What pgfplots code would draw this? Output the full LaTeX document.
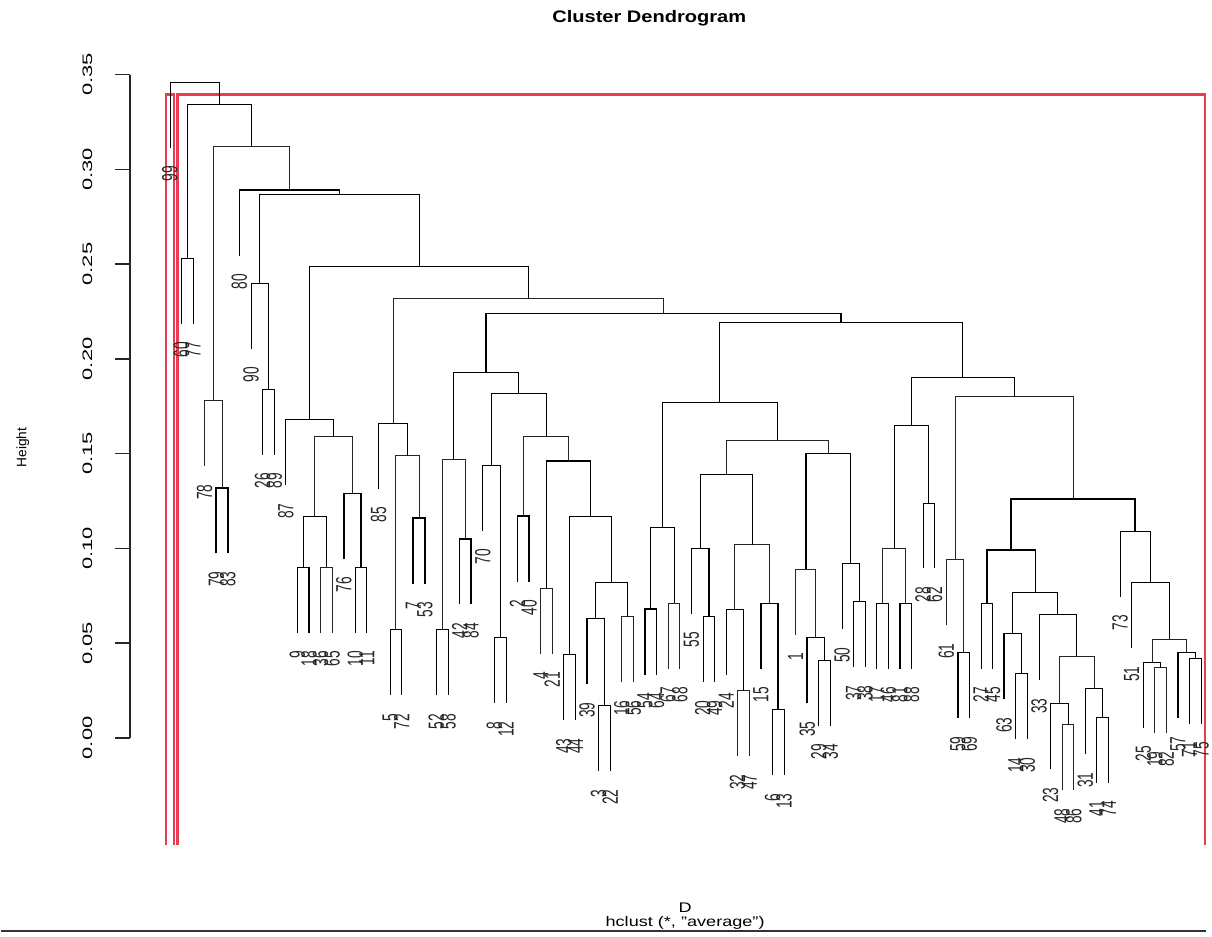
\documentclass[border=0pt]{standalone}
\usepackage{fontspec}
\setmainfont{Liberation Sans}
\usepackage{pgfplots}
\pgfplotsset{compat=1.18}
\usepackage{pgfplotstable}

\pgfplotstableread{
x y lab
1 0.3054 99
2 0.2124 60
3 0.2124 77
4 0.1374 78
5 0.0914 79
6 0.0914 83
7 0.2484 80
8 0.1994 90
9 0.1434 26
10 0.1434 89
11 0.1274 87
12 0.0494 9
13 0.0494 18
14 0.0494 36
15 0.0494 65
16 0.0884 76
17 0.0494 10
18 0.0494 11
19 0.1254 85
20 0.0164 5
21 0.0164 72
22 0.0754 7
23 0.0754 53
24 0.0164 52
25 0.0164 58
26 0.0644 42
27 0.0644 84
28 0.1034 70
29 0.0124 8
30 0.0124 12
31 0.0764 2
32 0.0764 40
33 0.0384 4
34 0.0384 21
35 0.0034 43
36 0.0034 44
37 0.0224 39
38 -0.0236 3
39 -0.0236 22
40 0.0234 16
41 0.0234 56
42 0.0274 54
43 0.0274 64
44 0.0304 67
45 0.0304 68
46 0.0594 55
47 0.0234 20
48 0.0234 49
49 0.0274 24
50 -0.0156 32
51 -0.0156 47
52 0.0304 15
53 -0.0256 6
54 -0.0256 13
55 0.0484 1
56 0.0124 35
57 0.0004 29
58 0.0004 34
59 0.0514 50
60 0.0314 37
61 0.0314 38
62 0.0304 17
63 0.0304 46
64 0.0304 81
65 0.0304 88
66 0.0834 28
67 0.0834 62
68 0.0534 61
69 0.0044 59
70 0.0044 69
71 0.0304 27
72 0.0304 45
73 0.0144 63
74 -0.0066 14
75 -0.0066 30
76 0.0244 33
77 -0.0226 23
78 -0.0336 48
79 -0.0336 86
80 -0.0146 31
81 -0.0296 41
82 -0.0296 74
83 0.0684 73
84 0.0414 51
85 -0.0006 25
86 -0.0036 19
87 -0.0036 82
88 0.0044 57
89 0.0014 71
90 0.0014 75
}\leaves

\definecolor{rectred}{RGB}{232,60,80}
\newcommand{\lblfont}{\fontsize{6.9}{7}\selectfont}

\begin{document}
\begin{tikzpicture}
\begin{axis}[
  scale only axis, width=541pt, height=333.5pt,
  xmin=-2.433, xmax=90.44, ymin=0, ymax=0.35,
  clip=false,
  axis x line=none, axis y line*=left,
  axis line style={black!85, line width=0.75pt},
  ytick={0,0.05,0.10,0.15,0.20,0.25,0.30,0.35},
  yticklabels={0.00,0.05,0.10,0.15,0.20,0.25,0.30,0.35},
  tick align=outside, major tick length=7.5pt,
  ytick style={black!85, line width=0.75pt},
  yticklabel style={rotate=90, anchor=south, font=\lblfont, xscale=1.6},
  yticklabel shift=8pt,
  cycle list={{black!85, solid, mark=none, line width=0.8pt}},
]
% rect.hclust rectangles (k = 2)
\addplot[rectred, solid, mark=none, line width=1.1pt] coordinates {(0.66,-0.0567) (0.66,0.3395) (1.33,0.3395) (1.33,-0.0567)};
\addplot[rectred, solid, mark=none, line width=1.1pt] coordinates {(1.66,-0.0567) (1.66,0.3395) (90.33,0.3395) (90.33,-0.0567)};
% dendrogram merges
\addplot coordinates {(2,0.2184)(2,0.253)(3,0.253)(3,0.2184)};
\addplot coordinates {(5,0.0974)(5,0.132)(6,0.132)(6,0.0974)};
\addplot coordinates {(4,0.1434)(4,0.178)(5.5,0.178)(5.5,0.132)};
\addplot coordinates {(9,0.1494)(9,0.184)(10,0.184)(10,0.1494)};
\addplot coordinates {(8,0.2054)(8,0.240)(9.5,0.240)(9.5,0.184)};
\addplot coordinates {(12,0.0554)(12,0.090)(13,0.090)(13,0.0554)};
\addplot coordinates {(14,0.0554)(14,0.090)(15,0.090)(15,0.0554)};
\addplot coordinates {(12.5,0.090)(12.5,0.117)(14.5,0.117)(14.5,0.090)};
\addplot coordinates {(17,0.0554)(17,0.090)(18,0.090)(18,0.0554)};
\addplot coordinates {(16,0.0944)(16,0.129)(17.5,0.129)(17.5,0.090)};
\addplot coordinates {(13.5,0.117)(13.5,0.159)(16.75,0.159)(16.75,0.129)};
\addplot coordinates {(11,0.1334)(11,0.168)(15.125,0.168)(15.125,0.159)};
\addplot coordinates {(20,0.0224)(20,0.057)(21,0.057)(21,0.0224)};
\addplot coordinates {(22,0.0814)(22,0.116)(23,0.116)(23,0.0814)};
\addplot coordinates {(20.5,0.057)(20.5,0.149)(22.5,0.149)(22.5,0.116)};
\addplot coordinates {(19,0.1314)(19,0.166)(21.5,0.166)(21.5,0.149)};
\addplot coordinates {(24,0.0224)(24,0.057)(25,0.057)(25,0.0224)};
\addplot coordinates {(26,0.0704)(26,0.105)(27,0.105)(27,0.0704)};
\addplot coordinates {(24.5,0.057)(24.5,0.147)(26.5,0.147)(26.5,0.105)};
\addplot coordinates {(29,0.0184)(29,0.053)(30,0.053)(30,0.0184)};
\addplot coordinates {(28,0.1094)(28,0.144)(29.5,0.144)(29.5,0.053)};
\addplot coordinates {(31,0.0824)(31,0.117)(32,0.117)(32,0.0824)};
\addplot coordinates {(33,0.0444)(33,0.079)(34,0.079)(34,0.0444)};
\addplot coordinates {(35,0.0094)(35,0.044)(36,0.044)(36,0.0094)};
\addplot coordinates {(38,-0.0176)(38,0.017)(39,0.017)(39,-0.0176)};
\addplot coordinates {(37,0.0284)(37,0.063)(38.5,0.063)(38.5,0.017)};
\addplot coordinates {(40,0.0294)(40,0.064)(41,0.064)(41,0.0294)};
\addplot coordinates {(37.75,0.063)(37.75,0.082)(40.5,0.082)(40.5,0.064)};
\addplot coordinates {(35.5,0.044)(35.5,0.117)(39.125,0.117)(39.125,0.082)};
\addplot coordinates {(33.5,0.079)(33.5,0.146)(37.3125,0.146)(37.3125,0.117)};
\addplot coordinates {(31.5,0.117)(31.5,0.159)(35.4063,0.159)(35.4063,0.146)};
\addplot coordinates {(28.75,0.144)(28.75,0.182)(33.4531,0.182)(33.4531,0.159)};
\addplot coordinates {(25.5,0.147)(25.5,0.193)(31.1016,0.193)(31.1016,0.182)};
\addplot coordinates {(42,0.0334)(42,0.068)(43,0.068)(43,0.0334)};
\addplot coordinates {(44,0.0364)(44,0.071)(45,0.071)(45,0.0364)};
\addplot coordinates {(42.5,0.068)(42.5,0.111)(44.5,0.111)(44.5,0.071)};
\addplot coordinates {(47,0.0294)(47,0.064)(48,0.064)(48,0.0294)};
\addplot coordinates {(46,0.0654)(46,0.100)(47.5,0.100)(47.5,0.064)};
\addplot coordinates {(50,-0.0096)(50,0.025)(51,0.025)(51,-0.0096)};
\addplot coordinates {(49,0.0334)(49,0.068)(50.5,0.068)(50.5,0.025)};
\addplot coordinates {(53,-0.0196)(53,0.015)(54,0.015)(54,-0.0196)};
\addplot coordinates {(52,0.0364)(52,0.071)(53.5,0.071)(53.5,0.015)};
\addplot coordinates {(49.75,0.068)(49.75,0.102)(52.75,0.102)(52.75,0.071)};
\addplot coordinates {(46.75,0.100)(46.75,0.139)(51.25,0.139)(51.25,0.102)};
\addplot coordinates {(57,0.0064)(57,0.041)(58,0.041)(58,0.0064)};
\addplot coordinates {(56,0.0184)(56,0.053)(57.5,0.053)(57.5,0.041)};
\addplot coordinates {(55,0.0544)(55,0.089)(56.75,0.089)(56.75,0.053)};
\addplot coordinates {(60,0.0374)(60,0.072)(61,0.072)(61,0.0374)};
\addplot coordinates {(59,0.0574)(59,0.092)(60.5,0.092)(60.5,0.072)};
\addplot coordinates {(55.875,0.089)(55.875,0.150)(59.75,0.150)(59.75,0.092)};
\addplot coordinates {(49,0.139)(49,0.157)(57.8125,0.157)(57.8125,0.150)};
\addplot coordinates {(43.5,0.111)(43.5,0.177)(53.4063,0.177)(53.4063,0.157)};
\addplot coordinates {(62,0.0364)(62,0.071)(63,0.071)(63,0.0364)};
\addplot coordinates {(64,0.0364)(64,0.071)(65,0.071)(65,0.0364)};
\addplot coordinates {(62.5,0.071)(62.5,0.100)(64.5,0.100)(64.5,0.071)};
\addplot coordinates {(66,0.0894)(66,0.124)(67,0.124)(67,0.0894)};
\addplot coordinates {(63.5,0.100)(63.5,0.165)(66.5,0.165)(66.5,0.124)};
\addplot coordinates {(69,0.0104)(69,0.045)(70,0.045)(70,0.0104)};
\addplot coordinates {(68,0.0594)(68,0.094)(69.5,0.094)(69.5,0.045)};
\addplot coordinates {(71,0.0364)(71,0.071)(72,0.071)(72,0.0364)};
\addplot coordinates {(74,-0.0006)(74,0.034)(75,0.034)(75,-0.0006)};
\addplot coordinates {(73,0.0204)(73,0.055)(74.5,0.055)(74.5,0.034)};
\addplot coordinates {(78,-0.0276)(78,0.007)(79,0.007)(79,-0.0276)};
\addplot coordinates {(77,-0.0166)(77,0.018)(78.5,0.018)(78.5,0.007)};
\addplot coordinates {(81,-0.0236)(81,0.011)(82,0.011)(82,-0.0236)};
\addplot coordinates {(80,-0.0086)(80,0.026)(81.5,0.026)(81.5,0.011)};
\addplot coordinates {(77.75,0.018)(77.75,0.043)(80.75,0.043)(80.75,0.026)};
\addplot coordinates {(76,0.0304)(76,0.065)(79.25,0.065)(79.25,0.043)};
\addplot coordinates {(73.75,0.055)(73.75,0.077)(77.625,0.077)(77.625,0.065)};
\addplot coordinates {(71.5,0.071)(71.5,0.099)(75.6875,0.099)(75.6875,0.077)};
\addplot coordinates {(86,0.0024)(86,0.037)(87,0.037)(87,0.0024)};
\addplot coordinates {(85,0.0054)(85,0.040)(86.5,0.040)(86.5,0.037)};
\addplot coordinates {(89,0.0074)(89,0.042)(90,0.042)(90,0.0074)};
\addplot coordinates {(88,0.0104)(88,0.045)(89.5,0.045)(89.5,0.042)};
\addplot coordinates {(85.75,0.040)(85.75,0.052)(88.75,0.052)(88.75,0.045)};
\addplot coordinates {(84,0.0474)(84,0.082)(87.25,0.082)(87.25,0.052)};
\addplot coordinates {(83,0.0744)(83,0.109)(85.625,0.109)(85.625,0.082)};
\addplot coordinates {(73.5938,0.099)(73.5938,0.126)(84.3125,0.126)(84.3125,0.109)};
\addplot coordinates {(68.75,0.094)(68.75,0.180)(78.9531,0.180)(78.9531,0.126)};
\addplot coordinates {(65,0.165)(65,0.190)(73.8516,0.190)(73.8516,0.180)};
\addplot coordinates {(48.4531,0.177)(48.4531,0.219)(69.4258,0.219)(69.4258,0.190)};
\addplot coordinates {(28.3008,0.193)(28.3008,0.224)(58.9395,0.224)(58.9395,0.219)};
\addplot coordinates {(20.25,0.166)(20.25,0.232)(43.6201,0.232)(43.6201,0.224)};
\addplot coordinates {(13.0625,0.168)(13.0625,0.249)(31.9351,0.249)(31.9351,0.232)};
\addplot coordinates {(8.75,0.240)(8.75,0.287)(22.4988,0.287)(22.4988,0.249)};
\addplot coordinates {(7,0.2544)(7,0.289)(15.6244,0.289)(15.6244,0.287)};
\addplot coordinates {(4.75,0.178)(4.75,0.312)(11.3122,0.312)(11.3122,0.289)};
\addplot coordinates {(2.5,0.253)(2.5,0.334)(8.0311,0.334)(8.0311,0.312)};
\addplot coordinates {(1,0.3114)(1,0.346)(5.2656,0.346)(5.2656,0.334)};
% leaf labels
\addplot[only marks, mark=none, nodes near coords, point meta=explicit symbolic,
  nodes near coords style={anchor=east, xscale=1.6, rotate=90, font=\lblfont, inner sep=1pt, outer sep=2.5pt, black!85}]
  table[x=x, y=y, meta=lab] {\leaves};
% titles
\node[font=\bfseries\fontsize{8.4}{9}\selectfont, xscale=1.2] at (rel axis cs:0.4824,1.0855) {Cluster Dendrogram};
\node[rotate=90, font=\lblfont] at (rel axis cs:-0.0998,0.4378) {Height};
\node[font=\fontsize{7}{8}\selectfont, xscale=1.3] at (rel axis cs:0.5157,-0.2564) {D};
\node[font=\fontsize{7}{8}\selectfont, xscale=1.3] at (rel axis cs:0.5157,-0.2789) {hclust (*, "average")};
\draw[black!80, line width=0.8pt] (rel axis cs:-0.1202,-0.2909) -- (rel axis cs:1,-0.2909);
\pgfresetboundingbox
\useasboundingbox (rel axis cs:-0.12015,-0.2939) rectangle (rel axis cs:1,1.1124);
\end{axis}
\end{tikzpicture}
\end{document}
